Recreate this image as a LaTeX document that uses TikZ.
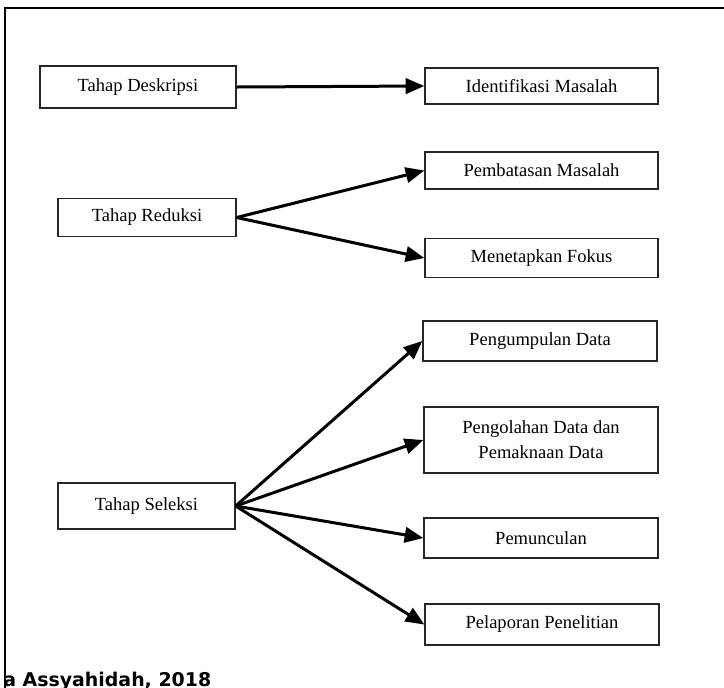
\documentclass[tikz,border=0pt]{standalone}
\usepackage{fontspec}
\setmainfont{Liberation Serif}
\newfontfamily\srcfont{DejaVu Sans}
\usetikzlibrary{arrows.meta}
\newlength\px
\setlength\px{0.75pt}

\begin{document}
\begin{tikzpicture}[x=0.75pt,y=-0.75pt,
    stagebox/.style={draw=black!85,line width=1.3\px,inner sep=0pt,align=center,
        font=\fontsize{13.9pt}{18.75pt}\selectfont},
    flow/.style={-{Triangle[length=14pt,width=11.5pt]},line width=3\px}]
\useasboundingbox (0,0) rectangle (724,687);

    \draw[line width=2.4\px] (5,700) -- (5,8) -- (740,8);

% stages on the left
\node[stagebox,minimum width=196\px,minimum height=42\px] (deskripsi) at (138,87) {Tahap Deskripsi};
\node[stagebox,minimum width=178\px,minimum height=38\px] (reduksi) at (147,217.5) {Tahap Reduksi};
\node[stagebox,minimum width=177\px,minimum height=46\px] (seleksi) at (146.5,506) {Tahap Seleksi};

% steps on the right
\node[stagebox,minimum width=233\px,minimum height=36\px] (identifikasi) at (541.5,86) {Identifikasi Masalah};
\node[stagebox,minimum width=233\px,minimum height=37\px] (pembatasan) at (541.5,170.5) {Pembatasan Masalah};
\node[stagebox,minimum width=233\px,minimum height=39\px] (fokus) at (541.5,258) {Menetapkan Fokus};
\node[stagebox,minimum width=234\px,minimum height=40\px] (pengumpulan) at (540,341) {Pengumpulan Data};
\node[stagebox,minimum width=234\px,minimum height=66\px] (pengolahan) at (541,440) {Pengolahan Data dan\\Pemaknaan Data};
\node[stagebox,minimum width=234\px,minimum height=40\px] (pemunculan) at (541,538) {Pemunculan};
\node[stagebox,minimum width=234\px,minimum height=41\px] (pelaporan) at (542,624.5) {Pelaporan Penelitian};

\draw[flow] (deskripsi.east) -- (identifikasi.west);
\foreach \t in {pembatasan,fokus} \draw[flow] (reduksi.east) -- (\t.west);
\foreach \t in {pengumpulan,pengolahan,pemunculan,pelaporan} \draw[flow] (seleksi.east) -- (\t.west);

\node[anchor=base west,inner sep=0pt,font=\srcfont\bfseries\fontsize{14.2pt}{16pt}\selectfont] (sumber) at (3,686) {a Assyahidah, 2018};
\end{tikzpicture}
\end{document}
